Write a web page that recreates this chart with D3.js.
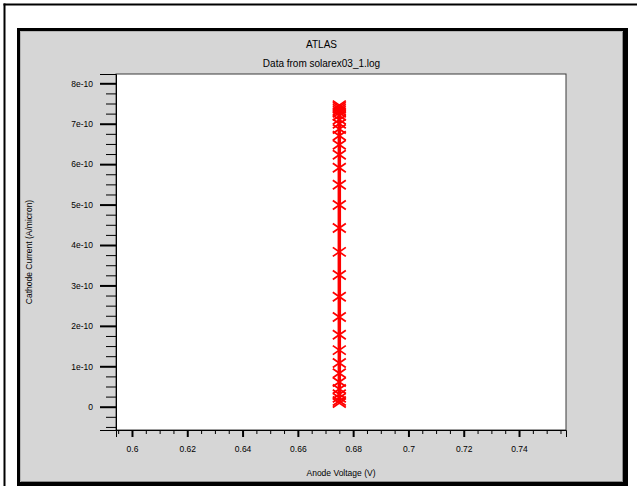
<!DOCTYPE html>
<html>
<head>
<meta charset="utf-8">
<script src="https://cdn.jsdelivr.net/npm/d3@7"></script>
<style>
  html, body { margin: 0; padding: 0; background: #ffffff; }
  svg { display: block; font-family: "Liberation Sans", Arial, sans-serif; }
</style>
</head>
<body>
<svg id="chart" width="637" height="486"></svg>
<script>
// Anode voltage (V) and cathode current (A/micron) read from solarex03_1.log
const anodeVoltage = [
  0.675, 0.675, 0.675, 0.675, 0.675, 0.675, 0.675, 0.675, 0.675, 0.675,
  0.675, 0.675, 0.675, 0.675, 0.675, 0.675, 0.675, 0.675, 0.675, 0.675,
  0.675, 0.675, 0.675, 0.675, 0.675, 0.675, 0.675, 0.675, 0.675, 0.675
];
const cathodeCurrent = [
  7.46e-10, 7.42e-10, 7.37e-10, 7.32e-10, 7.27e-10, 7.20e-10, 7.10e-10, 7.00e-10,
  6.87e-10, 6.70e-10, 6.48e-10, 6.23e-10, 5.91e-10, 5.49e-10, 4.99e-10, 4.42e-10,
  3.83e-10, 3.26e-10, 2.72e-10, 2.22e-10, 1.78e-10, 1.40e-10, 1.08e-10, 0.83e-10,
  0.61e-10, 0.44e-10, 0.31e-10, 0.22e-10, 0.14e-10, 0.09e-10
];

const xMajorTicks = [0.6, 0.62, 0.64, 0.66, 0.68, 0.7, 0.72, 0.74];
const xTickLabels = ["0.6", "0.62", "0.64", "0.66", "0.68", "0.7", "0.72", "0.74"];
const yMajorTicks = [0, 1e-10, 2e-10, 3e-10, 4e-10, 5e-10, 6e-10, 7e-10, 8e-10];
const yTickLabels = ["0", "1e-10", "2e-10", "3e-10", "4e-10", "5e-10", "6e-10", "7e-10", "8e-10"];

const titleText = "ATLAS";
const subtitleText = "Data from solarex03_1.log";
const xTitle = "Anode Voltage (V)";
const yTitle = "Cathode Current (A/micron)";

const svg = d3.select("#chart");

// outer frame
svg.append("line").attr("x1", 4.5).attr("y1", 3.5).attr("x2", 4.5).attr("y2", 486)
  .attr("stroke", "#000").attr("stroke-width", 2);
svg.append("line").attr("x1", 3.5).attr("y1", 4.5).attr("x2", 637).attr("y2", 4.5)
  .attr("stroke", "#000").attr("stroke-width", 2);

// grey panel with dark border
svg.append("rect").attr("x", 17).attr("y", 28).attr("width", 611).attr("height", 460).attr("fill", "#000");
svg.append("rect").attr("x", 20).attr("y", 31).attr("width", 603).attr("height", 451).attr("fill", "#d6d6d6");
svg.append("line").attr("x1", 622.5).attr("y1", 31).attr("x2", 622.5).attr("y2", 482)
  .attr("stroke", "#8c8c8c").attr("stroke-width", 1);
svg.append("line").attr("x1", 20).attr("y1", 481.5).attr("x2", 623).attr("y2", 481.5)
  .attr("stroke", "#8c8c8c").attr("stroke-width", 1);
svg.append("line").attr("x1", 20.5).attr("y1", 31).attr("x2", 20.5).attr("y2", 482)
  .attr("stroke", "#b4b4b4").attr("stroke-width", 1);
svg.append("line").attr("x1", 20).attr("y1", 31.5).attr("x2", 623).attr("y2", 31.5)
  .attr("stroke", "#b4b4b4").attr("stroke-width", 1);

// plot area
const plot = { left: 116, top: 74, right: 566, bottom: 430 };

const x = d3.scaleLinear().domain([0.59422, 0.75699]).range([plot.left, plot.right]);
const y = d3.scaleLinear().domain([-0.576e-10, 8.230e-10]).range([plot.bottom, plot.top]);

svg.append("rect")
  .attr("x", plot.left).attr("y", plot.top)
  .attr("width", plot.right - plot.left).attr("height", plot.bottom - plot.top)
  .attr("fill", "#ffffff").attr("stroke", "#3a3a3a").attr("stroke-width", 1);

// titles
svg.append("text").attr("x", 321.5).attr("y", 48).attr("text-anchor", "middle")
  .attr("font-size", 10).attr("fill", "#000").text(titleText);
svg.append("text").attr("x", 321.5).attr("y", 67).attr("text-anchor", "middle")
  .attr("font-size", 10).attr("fill", "#000").text(subtitleText);

// minor tick values
const xMinor = d3.range(0.595, 0.757, 0.005).map(v => +v.toFixed(3))
  .filter(v => !xMajorTicks.some(m => Math.abs(m - v) < 1e-6));
const yMinor = d3.range(-0.5e-10, 8.2e-10, 0.25e-10).map(v => +v.toExponential(3))
  .filter(v => !yMajorTicks.some(m => Math.abs(m - v) < 1e-14));

// x axis
const xAxis = d3.axisBottom(x).tickValues(xMajorTicks)
  .tickFormat((d, i) => xTickLabels[i]).tickSize(7).tickPadding(9);
const gx = svg.append("g").attr("transform", `translate(0,${plot.bottom})`).call(xAxis);
gx.select(".domain").attr("stroke", "#000").attr("stroke-width", 1);
gx.selectAll(".tick line").attr("stroke", "#000").attr("stroke-width", 2);
gx.selectAll(".tick text").attr("font-size", 8.5).attr("fill", "#000")
  .attr("font-family", "'Liberation Sans', Arial, sans-serif");
const xAxisMinor = d3.axisBottom(x).tickValues(xMinor).tickFormat("").tickSize(4);
const gxm = svg.append("g").attr("transform", `translate(0,${plot.bottom})`).call(xAxisMinor);
gxm.select(".domain").remove();
gxm.selectAll(".tick line").attr("stroke", "#000").attr("stroke-width", 1);

// y axis
const yAxis = d3.axisLeft(y).tickValues(yMajorTicks)
  .tickFormat((d, i) => yTickLabels[i]).tickSize(16).tickPadding(7);
const gy = svg.append("g").attr("transform", `translate(${plot.left},0)`).call(yAxis);
gy.select(".domain").attr("stroke", "#000").attr("stroke-width", 1);
gy.selectAll(".tick line").attr("stroke", "#000").attr("stroke-width", 2);
gy.selectAll(".tick text").attr("font-size", 8.5).attr("fill", "#000")
  .attr("font-family", "'Liberation Sans', Arial, sans-serif");
const yAxisMinor = d3.axisLeft(y).tickValues(yMinor).tickFormat("").tickSize(10);
const gym = svg.append("g").attr("transform", `translate(${plot.left},0)`).call(yAxisMinor);
gym.select(".domain").remove();
gym.selectAll(".tick line").attr("stroke", "#000").attr("stroke-width", 1);

// axis titles
svg.append("text").attr("x", (plot.left + plot.right) / 2).attr("y", 476)
  .attr("text-anchor", "middle").attr("font-size", 8.5).attr("fill", "#000").text(xTitle);
svg.append("text").attr("transform", `translate(32,${(plot.top + plot.bottom) / 2}) rotate(-90)`)
  .attr("text-anchor", "middle").attr("font-size", 8.5).attr("fill", "#000").text(yTitle);

// data series
const pts = anodeVoltage.map((v, i) => ({ v, c: cathodeCurrent[i] }));
const line = d3.line().x(d => x(d.v)).y(d => y(d.c));
svg.append("path").datum(pts).attr("d", line)
  .attr("fill", "none").attr("stroke", "#ff0000").attr("stroke-width", 3.5);

const hw = 6.5, hh = 4.5;
svg.append("g").selectAll("path.marker").data(pts).join("path")
  .attr("class", "marker")
  .attr("d", d => {
    const cx = x(d.v), cy = y(d.c);
    return `M${cx - hw},${cy - hh}L${cx + hw},${cy + hh}M${cx - hw},${cy + hh}L${cx + hw},${cy - hh}`;
  })
  .attr("fill", "none").attr("stroke", "#ff0000").attr("stroke-width", 1.8);
</script>
</body>
</html>
